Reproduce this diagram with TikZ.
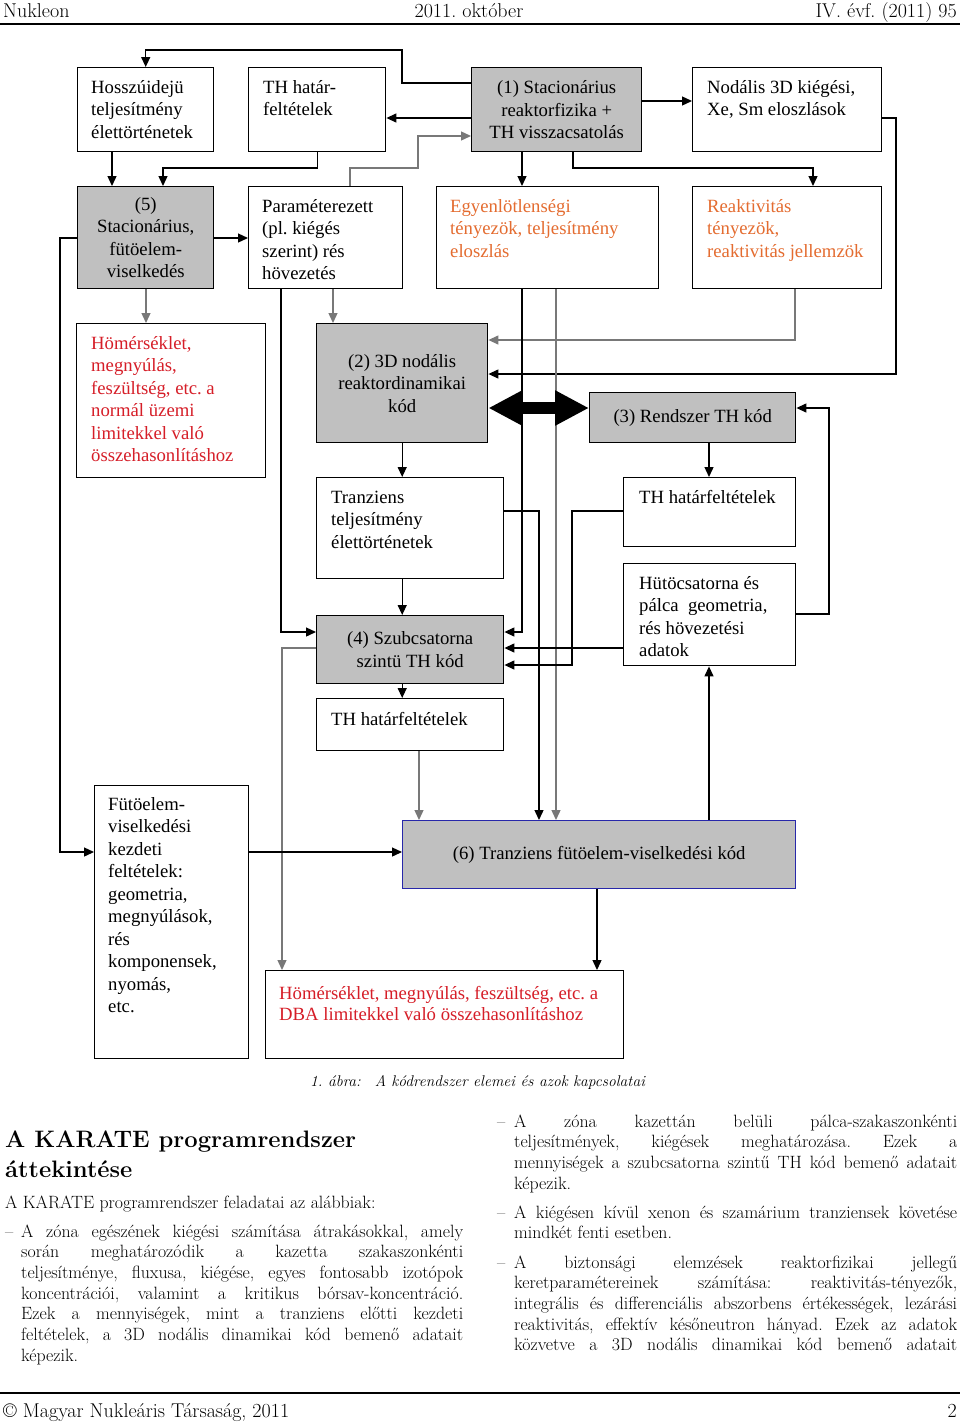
\documentclass[tikz,border=0pt]{standalone}
\usepackage{fontspec}
\newfontfamily\dobozfont{Liberation Serif}
\usetikzlibrary{arrows.meta}
\definecolor{kodszurke}{RGB}{192,192,192}
\definecolor{vonalszurke}{RGB}{120,120,120}
\definecolor{narancs}{RGB}{228,108,48}
\definecolor{piros}{RGB}{214,30,40}
\definecolor{kekkeret}{RGB}{40,40,170}
\begin{document}
\frenchspacing
\begin{tikzpicture}[x=1pt,y=-1pt,
  doboz/.style={draw, line width=1.4pt, inner sep=0pt, anchor=north west, align=center, font=\dobozfont\fontsize{18.7}{22.5}\selectfont},
  kod/.style={doboz, fill=kodszurke},
  felirat/.style={anchor=base west, inner sep=0pt, align=left, font=\dobozfont\fontsize{18.7}{22.5}\selectfont},
  nyil/.style={-{Triangle[length=10pt,width=9pt]}, line width=1.3pt},
  szurkenyil/.style={nyil, draw=vonalszurke},
  dupla/.style={line width=12pt, {Triangle[length=34pt,width=33pt]}-{Triangle[length=34pt,width=33pt]}},
  torzs/.style={anchor=base west, inner sep=0pt, align=left, font=\fontsize{17.8}{20.7}\selectfont},
  fejlec/.style={inner sep=0pt, font=\fontsize{20}{22}\selectfont}]
\fill[white] (0,0) rectangle (960,1422);
\useasboundingbox (0,0) rectangle (960,1422);

% fejlec
\node[fejlec, anchor=base west] (fejbal) at (3,17) {Nukleon};
\node[fejlec, anchor=base] (fejkozep) at (469,17) {2011. október};
\node[fejlec, anchor=base east] (fejjobb) at (957,17) {IV. évf. (2011) 95};
\draw[line width=2.5pt] (0,24) -- (960,24);

% dobozok
\node[doboz, minimum width=136, minimum height=84] (hossz) at (77,67) {};
\node[doboz, minimum width=137, minimum height=84] (thf1) at (248,67) {};
\node[kod, minimum width=170, minimum height=84] (stac1) at (471,67) {(1) Stacionárius\\reaktorfizika +\\TH visszacsatolás};
\node[doboz, minimum width=189, minimum height=84] (nodal) at (692,67) {};
\node[kod, minimum width=136, minimum height=102] (stac5) at (77,186) {(5)\\Stacionárius,\\fütöelem-\\viselkedés};
\node[doboz, minimum width=154, minimum height=102] (param) at (248,186) {};
\node[doboz, minimum width=222, minimum height=102] (egyen) at (436,186) {};
\node[doboz, minimum width=189, minimum height=102] (reakt) at (692,186) {};
\node[doboz, minimum width=189, minimum height=154] (hom1) at (76,323) {};
\node[kod, minimum width=171, minimum height=119] (nod2) at (316,323) {(2) 3D nodális\\reaktordinamikai\\kód};
\node[kod, minimum width=206, minimum height=50] (rth3) at (589,392) {(3) Rendszer TH kód};
\node[doboz, minimum width=187, minimum height=101] (tranz) at (316,477) {};
\node[doboz, minimum width=172, minimum height=69] (thf3) at (623,477) {};
\node[doboz, minimum width=172, minimum height=102] (huto) at (623,563) {};
\node[kod, minimum width=187, minimum height=68] (szub4) at (316,615) {(4) Szubcsatorna\\szintü TH kód};
\node[doboz, minimum width=187, minimum height=52] (thf4) at (316,698) {};
\node[doboz, minimum width=154, minimum height=273] (futo) at (94,785) {};
\node[kod, draw=kekkeret, minimum width=393, minimum height=68] (tr6) at (402,820) {(6) Tranziens fütöelem-viselkedési kód};
\node[doboz, minimum width=358, minimum height=88] (dba) at (265,970) {};

% feliratok a dobozokban (alapvonal: utolso sor)
\node[felirat] (hossz-t) at (91,138) {Hosszúidejü\\teljesítmény\\élettörténetek};
\node[felirat] (thf1-t) at (263,115.5) {TH határ-\\feltételek};
\node[felirat] (nodal-t) at (707,115.5) {Nodális 3D kiégési,\\Xe, Sm eloszlások};
\node[felirat] (param-t) at (262,279.5) {Paraméterezett\\(pl. kiégés\\szerint) rés\\hövezetés};
\node[felirat, text=narancs] (egyen-t) at (450,257) {Egyenlötlenségi\\tényezök, teljesítmény\\eloszlás};
\node[felirat, text=narancs] (reakt-t) at (707,257) {Reaktivitás\\tényezök,\\reaktivitás jellemzök};
\node[felirat, text=piros] (hom1-t) at (91,461.5) {Hömérséklet,\\megnyúlás,\\feszültség, etc. a\\normál üzemi\\limitekkel való\\összehasonlításhoz};
\node[felirat] (tranz-t) at (331,548) {Tranziens\\teljesítmény\\élettörténetek};
\node[felirat] (thf3-t) at (639,503) {TH határfeltételek};
\node[felirat] (huto-t) at (639,656.5) {Hütöcsatorna és\\pálca\ \ geometria,\\rés hövezetési\\adatok};
\node[felirat] (thf4-t) at (331,725) {TH határfeltételek};
\node[felirat] (futo-t) at (108,1012.5) {Fütöelem-\\viselkedési\\kezdeti\\feltételek:\\geometria,\\megnyúlások,\\rés\\komponensek,\\nyomás,\\etc.};
\node[felirat, text=piros, font=\dobozfont\fontsize{18.7}{21}\selectfont] (dba-t) at (279,1020) {Hömérséklet, megnyúlás, feszültség, etc. a\\DBA limitekkel való összehasonlításhoz};

% kapcsolatok
\draw[nyil] (stac1.west |- 0,83) -- (402,83) -- (402,50) -| (hossz.north);
\draw[nyil] (stac1.west |- 0,118) -- (thf1.east |- 0,118);
\draw[szurkenyil] (param.north -| 350,0) -- (350,168) -- (418,168) -- (418,136) -- (stac1.west |- 0,136);
\draw[nyil] (stac1.east |- 0,101) -- (nodal.west |- 0,101);
\draw[nyil] (hossz.south -| 112,0) -- (stac5.north -| 112,0);
\draw[nyil] (thf1.south) -- (thf1.south |- 0,168) -| (stac5.north -| 163,0);
\draw[nyil] (stac1.south -| 522,0) -- (egyen.north -| 522,0);
\draw[nyil] (stac1.south -| 573,0) |- (813,168) -- (reakt.north -| 813,0);
\draw[nyil] (stac5.east |- 0,238) -- (param.west |- 0,238);
\draw[nyil] (nodal.east |- 0,118) -| (896,374) -- (nod2.east |- 0,374);
\draw[szurkenyil] (reakt.south -| 795,0) |- (nod2.east |- 0,340);
\draw[szurkenyil] (stac5.south -| 146,0) -- (hom1.north -| 146,0);
\draw[szurkenyil] (param.south -| 333,0) -- (nod2.north -| 333,0);
\draw[nyil] (stac5.west |- 0,238) -| (60,852) -- (futo.west |- 0,852);
\draw[nyil] (param.south -| 281,0) |- (szub4.west |- 0,632);
\draw[szurkenyil] (szub4.west |- 0,648) -| (dba.north -| 282,0);
\draw[nyil] (egyen.south -| 522,0) |- (szub4.east |- 0,632);
\draw[szurkenyil] (egyen.south -| 556,0) -- (tr6.north -| 556,0);
\draw[dupla] (nod2.east |- 0,408) -- (rth3.west |- 0,408);
\draw[nyil] (huto.east |- 0,614) -| (829,408) -- (rth3.east |- 0,408);
\draw[nyil] (rth3.south -| 709,0) -- (thf3.north -| 709,0);
\draw[nyil] (tranz.east |- 0,511) -| (tr6.north -| 539,0);
\draw[nyil] (thf3.west |- 0,511) -| (572,665) -- (szub4.east |- 0,665);
\draw[nyil] (huto.west |- 0,648) -- (szub4.east |- 0,648);
\draw[nyil] (nod2.south) -- (tranz.north -| nod2.south);
\draw[nyil] (tranz.south -| nod2.south) -- (szub4.north -| nod2.south);
\draw[nyil] (szub4.south -| nod2.south) -- (thf4.north -| nod2.south);
\draw[szurkenyil] (thf4.south -| 419,0) -- (tr6.north -| 419,0);
\draw[nyil] (futo.east |- 0,852) -- (tr6.west |- 0,852);
\draw[nyil] (tr6.north -| 709,0) -- (huto.south -| 709,0);
\draw[nyil] (tr6.south -| 597,0) -- (dba.north -| 597,0);

% abra alairas
\node[anchor=base west, inner sep=0pt, font=\itshape\fontsize{15.5}{18}\selectfont] (abra) at (310,1086) {1. ábra:\hspace{14pt}A kódrendszer elemei és azok kapcsolatai};

% bal hasab
\node[anchor=base west, inner sep=0pt, align=left, font=\bfseries\fontsize{23.8}{30}\selectfont] (cim) at (5,1177) {A KARATE programrendszer\\áttekintése};
\node[torzs] (bevezeto) at (5,1208) {A KARATE programrendszer feladatai az alábbiak:};
\node[torzs] (bal1-jel) at (5,1237) {--};
\node[torzs] (bal1) at (21,1361.2) {\makebox[442pt][s]{A zóna egészének kiégési számítása átrakásokkal, amely}\\
\makebox[442pt][s]{során meghatározódik a kazetta szakaszonkénti}\\
\makebox[442pt][s]{teljesítménye, fluxusa, kiégése, egyes fontosabb izotópok}\\
\makebox[442pt][s]{koncentrációi, valamint a kritikus bórsav-koncentráció.}\\
\makebox[442pt][s]{Ezek a mennyiségek, mint a tranziens előtti kezdeti}\\
\makebox[442pt][s]{feltételek, a 3D nodális dinamikai kód bemenő adatait}\\
képezik.};

% jobb hasab
\node[torzs] (jobb1-jel) at (497,1127) {--};
\node[torzs] (jobb1) at (514,1189.1) {\makebox[443pt][s]{A zóna kazettán belüli pálca-szakaszonkénti}\\
\makebox[443pt][s]{teljesítmények, kiégések meghatározása. Ezek a}\\
\makebox[443pt][s]{mennyiségek a szubcsatorna szintű TH kód bemenő adatait}\\
képezik.};
\node[torzs] (jobb2-jel) at (497,1218) {--};
\node[torzs] (jobb2) at (514,1238.7) {\makebox[443pt][s]{A kiégésen kívül xenon és szamárium tranziensek követése}\\
mindkét fenti esetben.};
\node[torzs] (jobb3-jel) at (497,1268) {--};
\node[torzs] (jobb3) at (514,1350.8) {\makebox[443pt][s]{A biztonsági elemzések reaktorfizikai jellegű}\\
\makebox[443pt][s]{keretparamétereinek számítása: reaktivitás-tényezők,}\\
\makebox[443pt][s]{integrális és differenciális abszorbens értékességek, lezárási}\\
\makebox[443pt][s]{reaktivitás, effektív későneutron hányad. Ezek az adatok}\\
\makebox[443pt][s]{közvetve a 3D nodális dinamikai kód bemenő adatait}};

% lablec
\draw[line width=1.5pt] (0,1393) -- (960,1393);
\node[fejlec, anchor=base west] (labbal) at (3,1417) {\textcopyright{} Magyar Nukleáris Társaság, 2011};
\node[fejlec, anchor=base east] (labjobb) at (957,1417) {2};
\end{tikzpicture}
\end{document}
